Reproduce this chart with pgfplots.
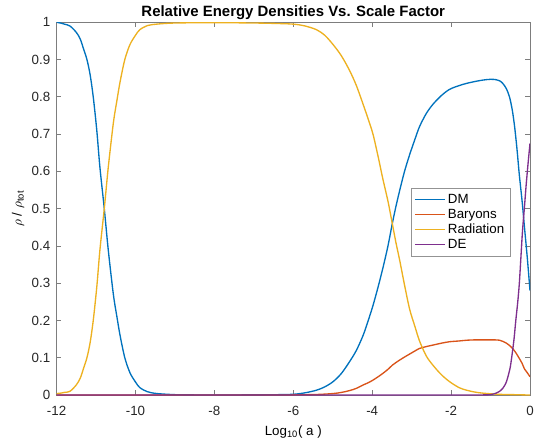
\documentclass[border=0pt]{standalone}
\usepackage{fontspec}
\setmainfont{Liberation Sans}
\usepackage{pgfplots}
\pgfplotsset{compat=1.18}

\definecolor{mDM}{rgb}{0,0.447,0.741}
\definecolor{mBar}{rgb}{0.850,0.325,0.098}
\definecolor{mRad}{rgb}{0.929,0.694,0.125}
\definecolor{mDE}{rgb}{0.494,0.184,0.556}
\definecolor{axgray}{rgb}{0.15,0.15,0.15}

\begin{document}
\begin{tikzpicture}
\begin{axis}[
    scale only axis,
    width=355pt, height=279.5pt,
    xmin=-12, xmax=0, ymin=0, ymax=1,
    xtick={-12,-10,...,0},
    ytick={0,0.1,...,1},
    yticklabels={0,0.1,0.2,0.3,0.4,0.5,0.6,0.7,0.8,0.9,1},
    tick align=inside,
    major tick length=3.5pt,
    axis line style={axgray!60, line width=0.5pt},
    every tick/.style={axgray!60, line width=0.5pt},
    tick label style={font=\fontsize{10}{12}\selectfont, text=axgray},
    xticklabel style={anchor=base, yshift=-15pt},
    yticklabel style={xshift=-1.2pt},
    /pgf/number format/assume math mode=true,
    title={\textbf{Relative Energy Densities Vs. Scale Factor}},
    every axis title/.style={at={(axis description cs:0.5,1)}, anchor=base, yshift=4.2pt,
        font=\fontsize{11.2}{13}\selectfont},
    xlabel={Log\textsubscript{10}( a )},
    ylabel={$\rho$ / $\rho$\textsubscript{tot}},
    label style={font=\fontsize{11}{13}\selectfont, text=axgray},
    every axis x label/.style={at={(axis description cs:0.5,0)}, anchor=base, yshift=-30pt},
    every axis y label/.style={at={(axis description cs:-0.0814,0.5)}, anchor=center, rotate=90},
    legend style={at={(0.958,0.555)}, anchor=north east,
        font=\fontsize{10}{12}\selectfont, draw=axgray!50,
        row sep=-1.2pt, inner sep=2.2pt},
    legend cell align=left,
    legend image code/.code={\draw[#1, line width=1pt] (0cm,0cm) -- (0.78cm,0cm);},
]
\coordinate (sw) at (rel axis cs:0,0);
\coordinate (ne) at (rel axis cs:1,1);
% DM
\addplot[draw=mDM, line width=1pt, smooth] coordinates {
(-12,1.0) (-11.9,0.998) (-11.8,0.995) (-11.66,0.99) (-11.5,0.973)
(-11.4,0.955) (-11.32,0.93) (-11.23,0.90) (-11.15,0.86) (-11.07,0.80)
(-10.98,0.71) (-10.90,0.61) (-10.79,0.50) (-10.69,0.39) (-10.56,0.27)
(-10.47,0.21) (-10.39,0.16) (-10.27,0.10) (-10.14,0.06) (-10.0,0.035)
(-9.89,0.02) (-9.7,0.009) (-9.46,0.004) (-9.0,0.001) (-8.5,0.0003)
(-8,0.0002) (-7,0.0004) (-6.5,0.0008) (-6.0,0.002) (-5.7,0.006)
(-5.41,0.013) (-5.2,0.022) (-4.99,0.036) (-4.78,0.058) (-4.57,0.09)
(-4.4,0.12) (-4.23,0.16) (-4.1,0.20) (-3.98,0.24) (-3.85,0.29)
(-3.73,0.34) (-3.6,0.40) (-3.49,0.46) (-3.40,0.505) (-3.30,0.55)
(-3.18,0.60) (-3.05,0.645) (-2.92,0.685) (-2.80,0.72) (-2.63,0.755)
(-2.46,0.78) (-2.25,0.803) (-2.04,0.82) (-1.8,0.83) (-1.61,0.836)
(-1.4,0.841) (-1.19,0.845) (-1.0,0.847) (-0.86,0.846) (-0.77,0.843)
(-0.69,0.836) (-0.6,0.822) (-0.52,0.80) (-0.45,0.765) (-0.39,0.72)
(-0.33,0.66) (-0.27,0.59) (-0.2,0.52) (-0.14,0.45) (-0.07,0.37) (0,0.28)
};
\addlegendentry{DM}
% Baryons
\addplot[draw=mBar, line width=1pt, smooth] coordinates {
(-12,0) (-6.5,0) (-6,0.0005) (-5.4,0.0015) (-4.99,0.004) (-4.78,0.007)
(-4.57,0.012) (-4.4,0.018) (-4.23,0.027) (-4.1,0.033) (-3.98,0.04)
(-3.85,0.049) (-3.73,0.058) (-3.6,0.069) (-3.49,0.08) (-3.40,0.087)
(-3.30,0.094) (-3.18,0.102) (-3.05,0.11) (-2.92,0.118) (-2.80,0.125)
(-2.63,0.13) (-2.46,0.134) (-2.25,0.139) (-2.04,0.143) (-1.8,0.145)
(-1.61,0.147) (-1.4,0.148) (-1.19,0.148) (-0.9,0.148) (-0.77,0.147)
(-0.69,0.144) (-0.61,0.14) (-0.52,0.133) (-0.44,0.125) (-0.35,0.112)
(-0.27,0.098) (-0.2,0.085) (-0.14,0.07) (-0.07,0.06) (0,0.049)
};
\addlegendentry{Baryons}
% Radiation
\addplot[draw=mRad, line width=1pt, smooth] coordinates {
(-12,0.004) (-11.9,0.005) (-11.8,0.007) (-11.66,0.01) (-11.5,0.027)
(-11.4,0.045) (-11.32,0.07) (-11.23,0.10) (-11.15,0.14) (-11.07,0.20)
(-10.98,0.29) (-10.90,0.39) (-10.79,0.50) (-10.69,0.61) (-10.56,0.73)
(-10.47,0.79) (-10.39,0.84) (-10.27,0.90) (-10.14,0.94) (-10.0,0.965)
(-9.89,0.98) (-9.7,0.991) (-9.46,0.995) (-9,0.998) (-8,0.999)
(-7,0.998) (-6.5,0.997) (-6,0.995) (-5.7,0.99) (-5.41,0.98)
(-5.2,0.965) (-4.99,0.94) (-4.78,0.91) (-4.57,0.87) (-4.4,0.83)
(-4.23,0.78) (-4.1,0.74) (-3.98,0.70) (-3.85,0.64) (-3.73,0.58)
(-3.6,0.52) (-3.49,0.46) (-3.40,0.41) (-3.30,0.36) (-3.18,0.295)
(-3.05,0.23) (-2.92,0.185) (-2.80,0.145) (-2.63,0.105) (-2.46,0.08)
(-2.25,0.055) (-2.04,0.036) (-1.8,0.02) (-1.61,0.013) (-1.4,0.008)
(-1.19,0.005) (-0.8,0.002) (-0.4,0.001) (0,0.0)
};
\addlegendentry{Radiation}
% DE
\addplot[draw=mDE, line width=1pt, smooth] coordinates {
(-12,0) (-2,0) (-1.2,0.0003) (-1.0,0.001) (-0.86,0.005) (-0.77,0.01)
(-0.69,0.018) (-0.62,0.03) (-0.57,0.045) (-0.5,0.075) (-0.44,0.12)
(-0.4,0.155) (-0.36,0.20) (-0.31,0.25) (-0.27,0.30) (-0.23,0.37)
(-0.19,0.44) (-0.14,0.505) (-0.10,0.56) (-0.05,0.62) (0,0.675)
};
\addlegendentry{DE}
\end{axis}
\path (sw) ++(-42.4pt,-33.7pt) coordinate (bbA);
\path (ne) ++(4.5pt,16.7pt) coordinate (bbB);
\pgfresetboundingbox
\path[use as bounding box] (bbA) rectangle (bbB);
\end{tikzpicture}
\end{document}
